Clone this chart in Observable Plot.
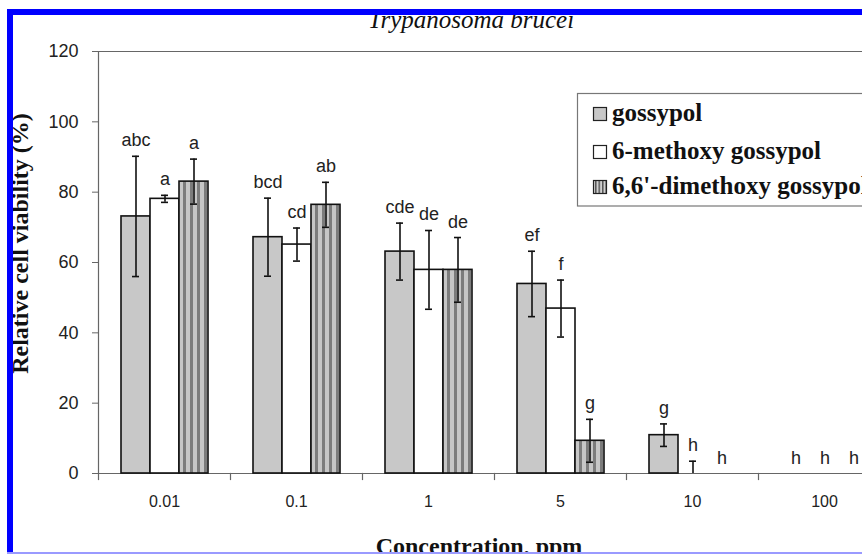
<!DOCTYPE html>
<html><head><meta charset="utf-8">
<script src="https://cdn.jsdelivr.net/npm/d3@7"></script>
<script src="https://cdn.jsdelivr.net/npm/@observablehq/plot@0.6"></script>
<style>
html,body{margin:0;padding:0;background:#fff;}
#wrap{position:relative;width:862px;height:554px;overflow:hidden;background:#fff;}
#wrap svg{position:absolute;left:0;top:0;max-width:none !important;}
</style></head><body><div id="wrap"></div>
<script>
// ---- data ----
const concentrations = ["0.01", "0.1", "1", "5", "10", "100"];
const seriesNames = ["gossypol", "6-methoxy gossypol", "6,6'-dimethoxy gossypol"];
const gossypolMean   = [73.1, 67.2, 63.1, 53.9, 10.9, 0];
const gossypolErr    = [17.1, 11.1, 8.1, 9.3, 3.2, 0];
const methoxyMean    = [78.1, 65.1, 57.9, 46.9, 0, 0];
const methoxyErr     = [1.0, 4.7, 11.2, 8.1, 3.5, 0];
const dimethoxyMean  = [83.0, 76.4, 57.9, 9.3, 0, 0];
const dimethoxyErr   = [6.4, 6.4, 9.2, 6.1, 0, 0];
const gossypolLetters  = ["abc", "bcd", "cde", "ef", "g", "h"];
const methoxyLetters   = ["a", "cd", "de", "f", "h", "h"];
const dimethoxyLetters = ["a", "ab", "de", "g", "h", "h"];
const yTicks = [0, 20, 40, 60, 80, 100, 120];
const seriesColors = ["#c8c8c8", "#ffffff", "url(#dmStripes)"];
const chartTitle = "Trypanosoma brucei";
const xTitle = "Concentration, ppm";
const yTitle = "Relative cell viability (%)";

const means = [gossypolMean, methoxyMean, dimethoxyMean];
const errs = [gossypolErr, methoxyErr, dimethoxyErr];
const letters = [gossypolLetters, methoxyLetters, dimethoxyLetters];
const rows = [];
seriesNames.forEach((s, si) => concentrations.forEach((c, ci) => rows.push({
  conc: c, series: s, mean: means[si][ci], err: errs[si][ci], letter: letters[si][ci]
})));

const W = 900, H = 554, mL = 97, mR = 9, mT = 51, mB = 81;
const frameH = H - mT - mB;
const ink = "#111";

const chart = Plot.plot({
  width: W, height: H,
  marginLeft: mL, marginRight: mR, marginTop: mT, marginBottom: mB,
  style: {fontFamily: "'Liberation Sans', Arial, sans-serif", background: "transparent", color: "#222", overflow: "visible", maxWidth: "none"},
  fx: {domain: concentrations, padding: 0, label: null},
  x: {domain: seriesNames, paddingInner: 0, paddingOuter: 0.705, axis: null},
  y: {domain: [0, 120], label: null},
  color: {domain: seriesNames, range: seriesColors},
  marks: [
    Plot.ruleY([0, 120], {stroke: "#666", strokeWidth: 1.2}),
    Plot.frame({anchor: "left", facetAnchor: "left", stroke: "#666", strokeWidth: 1.2}),
    Plot.frame({anchor: "left", insetTop: frameH, insetBottom: -6, stroke: "#666", strokeWidth: 1.2}),
    Plot.axisY({ticks: yTicks, tickSize: 6, tickPadding: 14, fontSize: 18, label: null, stroke: "#666"}),
    Plot.axisFx({anchor: "bottom", tickSize: 0, tickPadding: 22, fontSize: 16, label: null}),
    Plot.barY(rows.filter(d => d.mean > 0), {fx: "conc", x: "series", y: "mean", fill: "series", stroke: ink, strokeWidth: 1.6}),
    Plot.ruleX(rows.filter(d => d.err > 0), {fx: "conc", x: "series", y1: d => Math.max(0, d.mean - d.err), y2: d => d.mean + d.err, stroke: ink, strokeWidth: 1.6}),
    Plot.tickY(rows.filter(d => d.err > 0), {fx: "conc", x: "series", y: d => d.mean + d.err, insetLeft: 11, insetRight: 11, stroke: ink, strokeWidth: 1.6}),
    Plot.tickY(rows.filter(d => d.err > 0 && d.mean - d.err > 0), {fx: "conc", x: "series", y: d => d.mean - d.err, insetLeft: 11, insetRight: 11, stroke: ink, strokeWidth: 1.6}),
    Plot.text(rows, {fx: "conc", x: "series", y: d => d.mean + d.err, text: "letter", lineAnchor: "bottom", dy: -10, fontSize: 18, fill: "#222"})
  ]
});

// stripe pattern for the dimethoxy series
const svgSel = d3.select(chart);
svgSel.attr("style", (svgSel.attr("style") || "") + ";max-width:none;width:" + W + "px;height:" + H + "px;");
const defs = svgSel.insert("defs", ":first-child");
const pat = defs.append("pattern").attr("id", "dmStripes").attr("patternUnits", "userSpaceOnUse").attr("width", 7).attr("height", 7);
pat.append("rect").attr("width", 7).attr("height", 7).attr("fill", "#c6c6c6");
pat.append("rect").attr("x", 0).attr("width", 3).attr("height", 7).attr("fill", "#7c7c7c");

const wrap = document.getElementById("wrap");
wrap.appendChild(chart);

// overlay: titles, legend, frame border
const ov = d3.select(wrap).append("svg").attr("width", 862).attr("height", 554).style("pointer-events", "none");
const odefs = ov.append("defs");
const p2 = odefs.append("pattern").attr("id", "dmStripesSw").attr("patternUnits", "userSpaceOnUse").attr("width", 3.5).attr("height", 4);
p2.append("rect").attr("width", 3.5).attr("height", 4).attr("fill", "#d0d0d0");
p2.append("rect").attr("width", 1.5).attr("height", 4).attr("fill", "#555");

const serif = "'Liberation Serif', 'Times New Roman', serif";
ov.append("text").attr("x", 471).attr("y", 28).attr("text-anchor", "middle")
  .attr("font-family", serif).attr("font-style", "italic").attr("font-size", 25).attr("fill", "#111").text(chartTitle);
ov.append("text").attr("x", 479).attr("y", 554).attr("text-anchor", "middle")
  .attr("font-family", serif).attr("font-weight", "bold").attr("font-size", 24).attr("fill", "#111").text(xTitle);
ov.append("text").attr("transform", "translate(28,243.5) rotate(-90)").attr("text-anchor", "middle")
  .attr("font-family", serif).attr("font-weight", "bold").attr("font-size", 24).attr("fill", "#111").text(yTitle);

// legend
ov.append("rect").attr("x", 577.5).attr("y", 93.5).attr("width", 400).attr("height", 112.5)
  .attr("fill", "#fff").attr("stroke", "#777").attr("stroke-width", 1.2);
const swFill = ["#c8c8c8", "#ffffff", "url(#dmStripesSw)"];
const baselines = [121, 159, 194];
seriesNames.forEach((s, i) => {
  ov.append("rect").attr("x", 593.5).attr("y", baselines[i] - 13.5).attr("width", 13).attr("height", 13)
    .attr("fill", swFill[i]).attr("stroke", "#222").attr("stroke-width", 1.2);
  ov.append("text").attr("x", 612).attr("y", baselines[i])
    .attr("font-family", serif).attr("font-weight", "bold").attr("font-size", 25).attr("fill", "#111").text(s);
});

// blue border of the figure
ov.append("rect").attr("x", 7).attr("y", 9).attr("width", 862).attr("height", 6).attr("fill", "#0000ff");
ov.append("rect").attr("x", 7).attr("y", 9).attr("width", 6).attr("height", 554).attr("fill", "#0000ff");
ov.append("rect").attr("x", 7).attr("y", 552).attr("width", 862).attr("height", 2).attr("fill", "#9a9aff");
</script></body></html>
